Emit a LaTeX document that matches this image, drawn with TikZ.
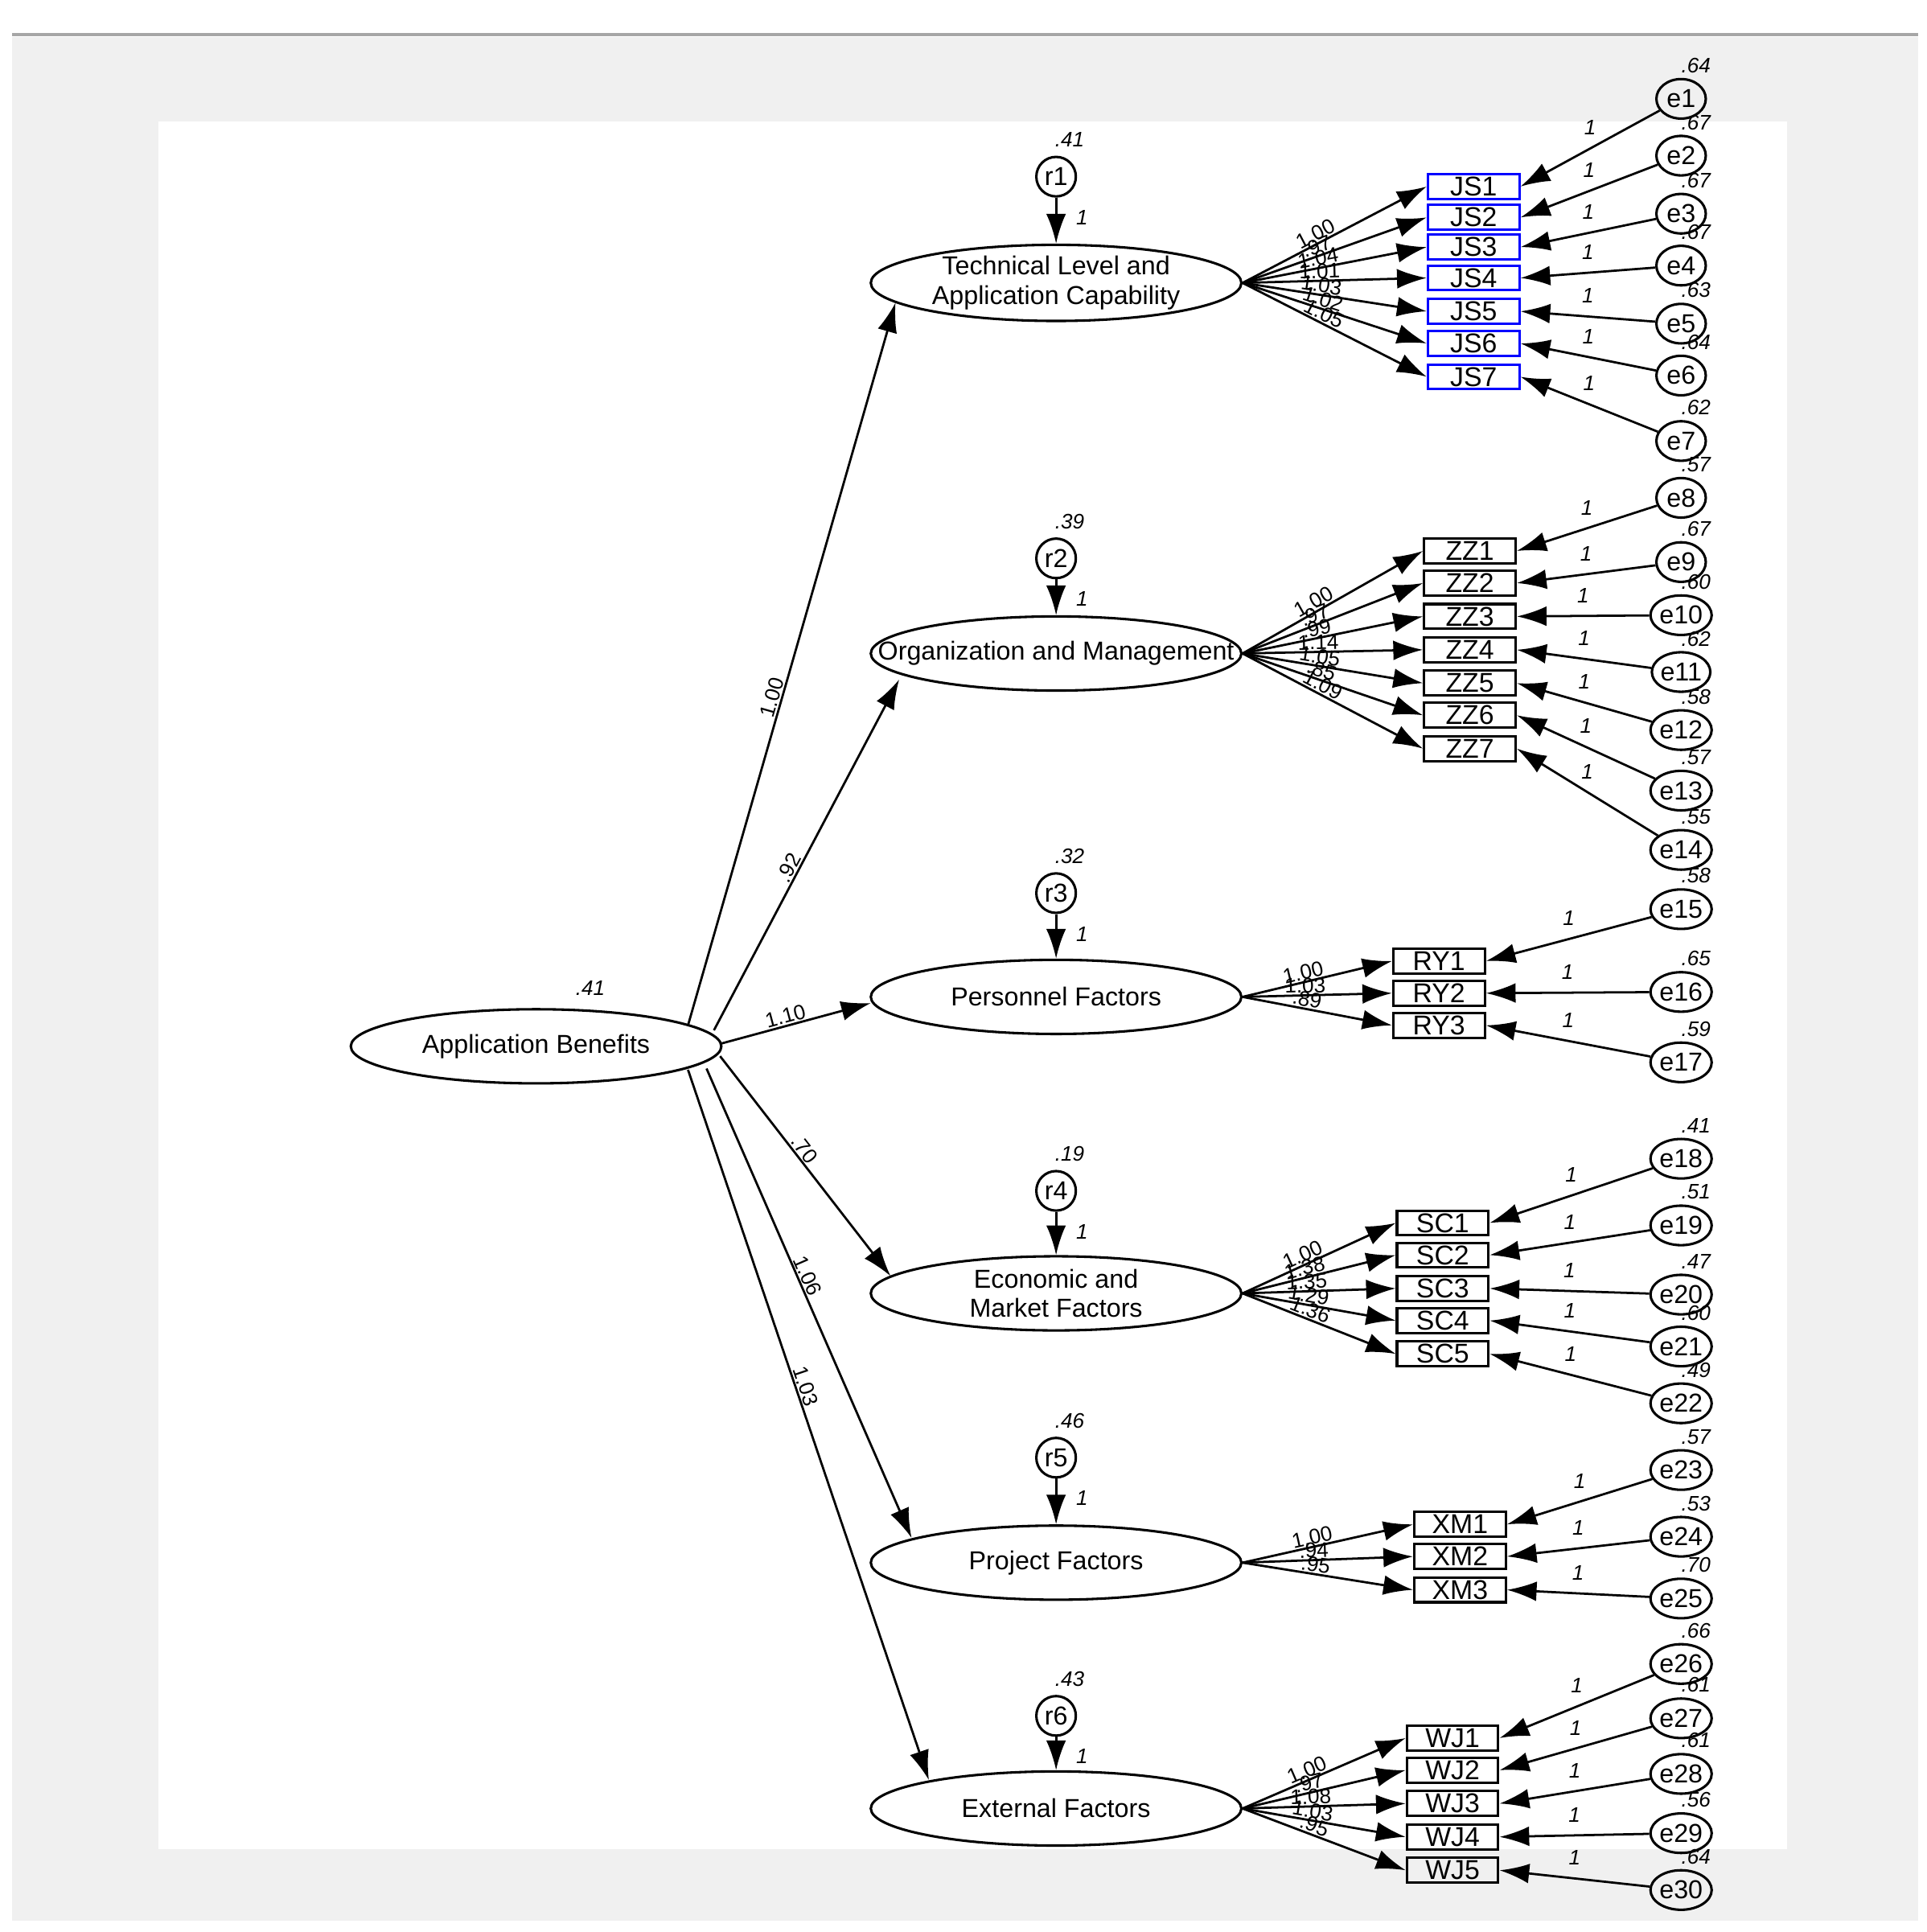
\documentclass[tikz,border=0pt]{standalone}
\usepackage{fontspec}
\setmainfont{Liberation Sans}
\usetikzlibrary{arrows.meta,shapes.geometric,calc}
\definecolor{bggray}{HTML}{F0F0F0}
\begin{document}
\begin{tikzpicture}[x=0.5pt,y=-0.5pt,
 lat/.style={ellipse,draw,line width=1pt,minimum width=150pt,minimum height=30pt,inner sep=0pt,align=center,font=\fontsize{10.5}{12}\selectfont},
 ind/.style={draw,line width=1pt,minimum width=37pt,minimum height=10pt,inner sep=0pt,font=\fontsize{11}{11}\selectfont},
 err/.style={ellipse,draw,line width=1pt,minimum width=20pt,minimum height=16pt,inner sep=0pt,font=\fontsize{10.5}{11}\selectfont},
 res/.style={circle,draw,line width=1pt,minimum size=16pt,inner sep=0pt,font=\fontsize{10.5}{11}\selectfont},
 arr/.style={line width=0.9pt,-{Latex[length=12pt,width=8pt]}},
 lab/.style={font=\fontsize{8.5}{9}\selectfont\itshape,inner sep=1pt},
 ld/.style={font=\fontsize{8.5}{9}\selectfont,inner sep=0.5pt,sloped,above,pos=0.42},
]
\useasboundingbox (0,0) rectangle (1560,1564);
\fill[bggray] (10,30) rectangle (1553,1555);
\draw[gray!70,line width=1pt] (10,28) -- (1553,28);
\fill[white] (128,98) rectangle (1447,1497);

% latent variables
\node[lat] (ab) at (434,847) {Application Benefits};
\node[lat] (tech) at (855,229) {Technical Level and\\Application Capability};
\node[lat] (org) at (855,529) {\makebox[0pt]{Organization and Management}};
\node[lat] (pers) at (855,807) {Personnel Factors};
\node[lat] (econ) at (855,1047) {Economic and\\Market Factors};
\node[lat] (proj) at (855,1265) {Project Factors};
\node[lat] (ext) at (855,1464) {External Factors};
\node[lab] at (478,800) {.41};

% residuals
\foreach \i/\t/\y/\v in {1/tech/143/.41,2/org/452/.39,3/pers/723/.32,4/econ/964/.19,5/proj/1180/.46,6/ext/1389/.43}{
  \node[res] (r\i) at (855,\y) {r\i};
  \node[lab] at (866,\y-30) {\v};
  \draw[arr] (r\i) -- (\t.north);
  \node[lab] at (876,\y+33) {1};
}

% structural paths
\coordinate (s1) at ($(ab)+(123,-17)$); \coordinate (t1) at ($(tech)+(-130,16)$);
\coordinate (s2) at ($(ab)+(144,-13)$); \coordinate (t2) at ($(org)+(-127,21)$);
\coordinate (s3) at ($(ab)+(149,-2)$);  \coordinate (t3) at ($(pers)+(-150,5)$);
\coordinate (s4) at ($(ab)+(149,8)$);   \coordinate (t4) at ($(econ)+(-134,-14)$);
\coordinate (s5) at ($(ab)+(138,18)$);  \coordinate (t5) at ($(proj)+(-117,-20)$);
\coordinate (s6) at ($(ab)+(123,19)$);  \coordinate (t6) at ($(ext)+(-103,-23)$);
\draw[arr] (s1) -- (t1) node[ld,pos=0.45]{1.00};
\draw[arr] (s2) -- (t2) node[ld,pos=0.45]{.92};
\draw[arr] (s3) -- (t3) node[ld,pos=0.45]{1.10};
\draw[arr] (s4) -- (t4) node[ld,pos=0.45]{.70};
\draw[arr] (s5) -- (t5) node[ld,pos=0.45]{1.06};
\draw[arr] (s6) -- (t6) node[ld,pos=0.45]{1.03};

% indicators
\foreach \n/\y/\l in {1/151/1.00,2/176/.97,3/200/1.04,4/225/1.01,5/252/1.03,6/278/1.02,7/305/1.05}{
  \node[ind,draw=blue] (JS\n) at (1193,\y) {JS\n};
  \draw[arr] (tech.east) -- (JS\n.west) node[ld]{\l};
}
\foreach \n/\y/\l in {1/446/1.00,2/472/.97,3/499/.99,4/526/1.14,5/553/1.05,6/579/.85,7/606/1.09}{
  \node[ind] (ZZ\n) at (1190,\y) {ZZ\n};
  \draw[arr] (org.east) -- (ZZ\n.west) node[ld]{\l};
}
\foreach \n/\y/\l in {1/778/1.00,2/804/1.03,3/830/.89}{
  \node[ind] (RY\n) at (1165,\y) {RY\n};
  \draw[arr] (pers.east) -- (RY\n.west) node[ld]{\l};
}
\foreach \n/\y/\l in {1/990/1.00,2/1016/1.38,3/1043/1.35,4/1069/1.29,5/1096/1.36}{
  \node[ind] (SC\n) at (1168,\y) {SC\n};
  \draw[arr] (econ.east) -- (SC\n.west) node[ld]{\l};
}
\foreach \n/\y/\l in {1/1234/1.00,2/1260/.94,3/1287/.95}{
  \node[ind] (XM\n) at (1182,\y) {XM\n};
  \draw[arr] (proj.east) -- (XM\n.west) node[ld]{\l};
}
\foreach \n/\y/\l in {1/1407/1.00,2/1433/.97,3/1460/1.08,4/1487/1.03,5/1514/.95}{
  \node[ind] (WJ\n) at (1176,\y) {WJ\n};
  \draw[arr] (ext.east) -- (WJ\n.west) node[ld]{\l};
}

% errors
\foreach \i/\y/\v/\t in {1/80/.64/JS1,2/126/.67/JS2,3/173/.67/JS3,4/215/.67/JS4,5/262/.63/JS5,6/304/.64/JS6,7/357/.62/JS7,
  8/403/.57/ZZ1,9/455/.67/ZZ2,10/498/.60/ZZ3,11/544/.62/ZZ4,12/591/.58/ZZ5,13/640/.57/ZZ6,14/688/.55/ZZ7,
  15/736/.58/RY1,16/803/.65/RY2,17/860/.59/RY3,
  18/938/.41/SC1,19/992/.51/SC2,20/1048/.47/SC3,21/1090/.60/SC4,22/1136/.49/SC5,
  23/1190/.57/XM1,24/1244/.53/XM2,25/1294/.70/XM3,
  26/1347/.66/WJ1,27/1391/.61/WJ2,28/1436/.61/WJ3,29/1484/.56/WJ4,30/1530/.64/WJ5}{
  \node[err] (e\i) at (1361,\y) {e\i};
  \node[lab] at (1373,\y-27) {\v};
  \draw[arr] (e\i) -- (\t.east) node[lab,midway,above=4pt]{1};
}
\end{tikzpicture}
\end{document}
